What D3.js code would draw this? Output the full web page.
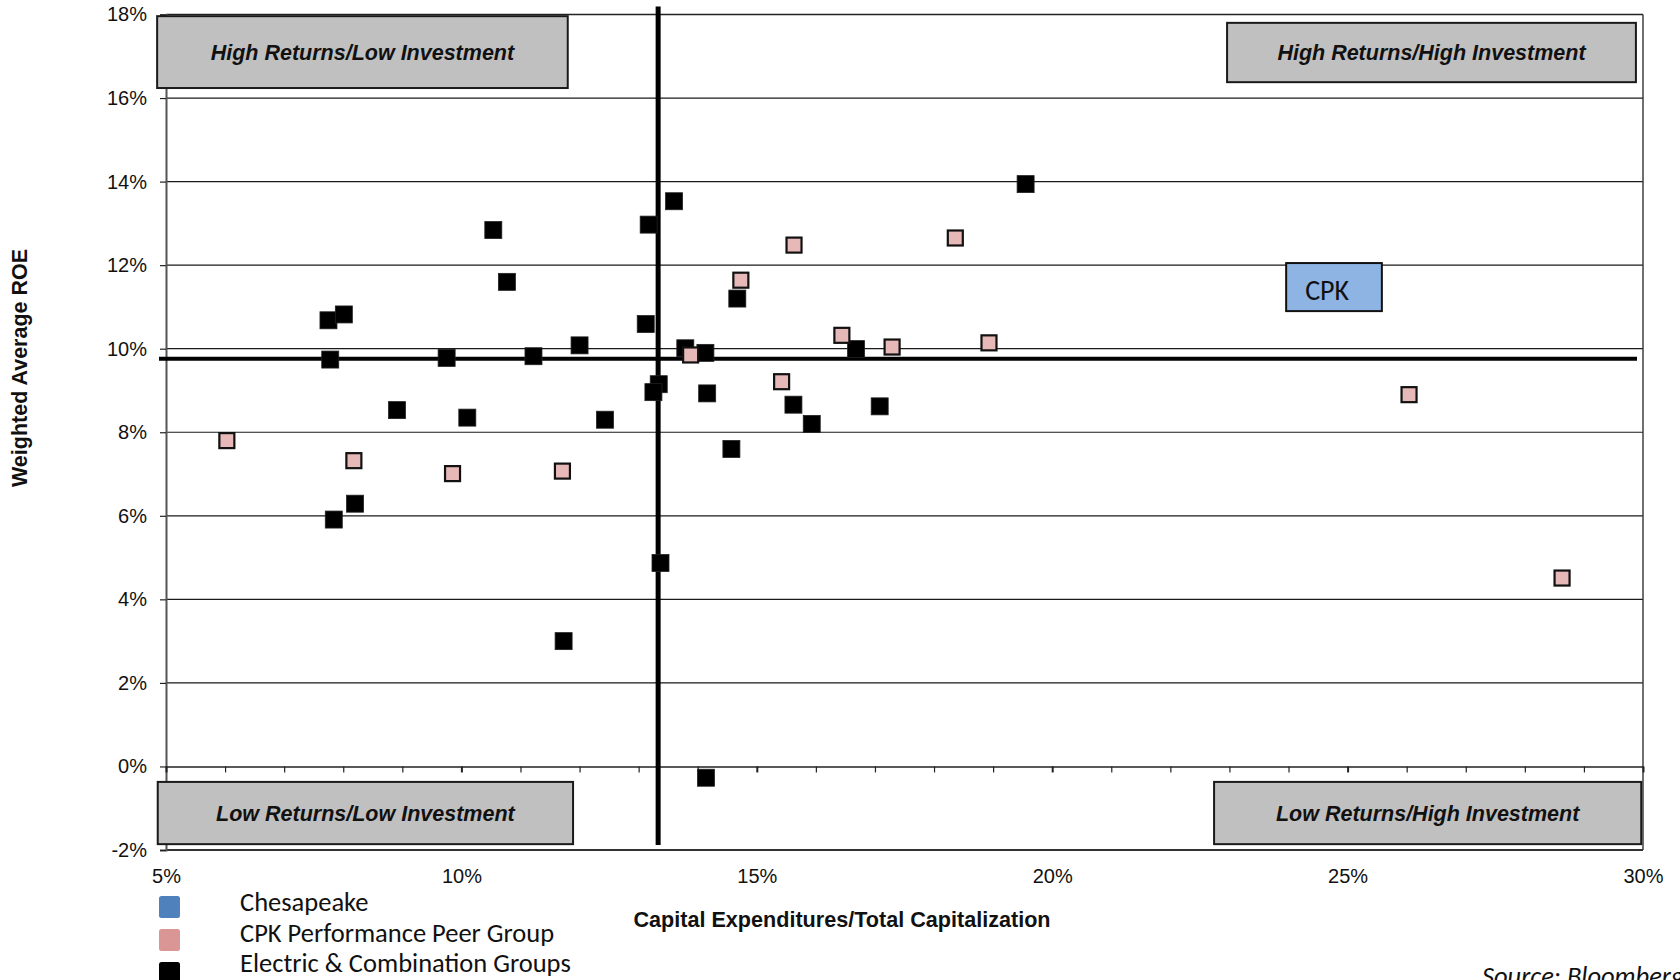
<!DOCTYPE html>
<html>
<head>
<meta charset="utf-8">
<script src="https://cdn.jsdelivr.net/npm/d3@7"></script>
<style>
  html, body { margin: 0; padding: 0; background: #fff; }
  svg { display: block; }
</style>
</head>
<body>
<div id="chart"></div>
<script>
// Capex / total capitalization (%) vs weighted average ROE (%)
const electricX = [7.75, 8.01, 7.78, 9.75, 10.54, 10.77, 11.22, 12.0, 8.91, 10.1, 12.43, 8.2, 7.84, 11.73,
  13.12, 13.17, 13.6, 13.79, 14.13, 13.34, 13.25, 14.16, 14.67, 14.57, 15.62, 15.93, 16.68, 17.08, 19.55, 13.37, 14.14];
const electricY = [10.68, 10.82, 9.74, 9.78, 12.84, 11.6, 9.82, 10.08, 8.53, 8.35, 8.3, 6.29, 5.91, 3.0,
  10.59, 12.97, 13.53, 10.01, 9.9, 9.15, 8.96, 8.93, 11.2, 7.6, 8.66, 8.2, 9.99, 8.62, 13.94, 4.87, -0.27];
const peerX = [6.03, 8.18, 9.85, 11.71, 13.88, 14.73, 15.42, 15.63, 16.44, 17.29, 18.36, 18.93, 26.04, 28.63];
const peerY = [7.8, 7.32, 7.01, 7.07, 9.85, 11.64, 9.21, 12.48, 10.32, 10.04, 12.65, 10.14, 8.9, 4.51];

const avgCapex = 13.33;
const avgRoe = 9.76;

const xTicks = [5, 10, 15, 20, 25, 30];
const yTicks = [-2, 0, 2, 4, 6, 8, 10, 12, 14, 16, 18];

const legendLabels = ["Chesapeake", "CPK Performance Peer Group", "Electric & Combination Groups"];
const legendColors = ["#4f81bd", "#d99694", "#000000"];

const quadrantLabels = [
  { text: "High Returns/Low Investment", x0: 4.85, x1: 11.8, y0: 17.96, y1: 16.24 },
  { text: "High Returns/High Investment", x0: 22.96, x1: 29.88, y0: 17.8, y1: 16.38 },
  { text: "Low Returns/Low Investment", x0: 4.86, x1: 11.89, y0: -0.37, y1: -1.86 },
  { text: "Low Returns/High Investment", x0: 22.74, x1: 29.97, y0: -0.37, y1: -1.86 },
];
const cpkLabel = { text: "CPK", x0: 23.96, x1: 25.58, y0: 12.05, y1: 10.9 };

const W = 1680, H = 980;
const margin = { top: 14.5, right: 37, bottom: 130, left: 166 };
const arial = "'Liberation Sans', Arial, sans-serif";
const calibri = "Carlito, Calibri, Lato, sans-serif";

const svg = d3.select("#chart").append("svg")
  .attr("width", W).attr("height", H)
  .attr("viewBox", `0 0 ${W} ${H}`);

const x = d3.scaleLinear().domain([5, 30]).range([margin.left, W - margin.right]);
const y = d3.scaleLinear().domain([-2, 18]).range([H - margin.bottom, margin.top]);

// grid
svg.append("g").selectAll("line")
  .data(yTicks.filter((d) => d !== 0 && d !== -2 && d !== 18))
  .join("line")
  .attr("x1", x(5)).attr("x2", x(30))
  .attr("y1", (d) => y(d)).attr("y2", (d) => y(d))
  .attr("stroke", "#1a1a1a").attr("stroke-width", 1.2);

// frame
svg.append("line").attr("x1", x(5)).attr("x2", x(30)).attr("y1", y(18)).attr("y2", y(18))
  .attr("stroke", "#222").attr("stroke-width", 1.6);
svg.append("line").attr("x1", x(5)).attr("x2", x(30)).attr("y1", y(-2)).attr("y2", y(-2))
  .attr("stroke", "#333").attr("stroke-width", 2.2);
svg.append("line").attr("x1", x(30)).attr("x2", x(30)).attr("y1", y(18)).attr("y2", y(-2))
  .attr("stroke", "#333").attr("stroke-width", 1.4);

// y axis
const yAxis = svg.append("g")
  .attr("transform", `translate(${x(5)},0)`)
  .call(d3.axisLeft(y).tickValues(yTicks).tickSize(6).tickPadding(13).tickFormat((d) => d + "%"));
yAxis.select(".domain").attr("stroke", "#555").attr("stroke-width", 2);
yAxis.selectAll(".tick line").attr("stroke", "#222").attr("stroke-width", 1.2);
yAxis.selectAll("text").style("font-family", arial).style("font-size", "20px").attr("fill", "#111");

// x axis line at 0% with minor ticks
const zeroAxis = svg.append("g")
  .attr("transform", `translate(0,${y(0)})`)
  .call(d3.axisBottom(x).ticks(25).tickSize(6).tickSizeOuter(0).tickFormat(""));
zeroAxis.select(".domain").attr("stroke", "#222").attr("stroke-width", 1.6);
zeroAxis.selectAll(".tick line")
  .attr("stroke", "#222")
  .attr("stroke-width", (d) => (xTicks.includes(d) ? 2 : 1.2));

// x tick labels along the bottom
const xAxis = svg.append("g")
  .attr("transform", `translate(0,${y(-2)})`)
  .call(d3.axisBottom(x).tickValues(xTicks).tickSize(0).tickPadding(19).tickFormat((d) => d + "%"));
xAxis.select(".domain").remove();
xAxis.selectAll("text").style("font-family", arial).style("font-size", "20px").attr("fill", "#111");

// quadrant boxes
const quad = svg.append("g").selectAll("g").data(quadrantLabels).join("g");
quad.append("rect")
  .attr("x", (d) => x(d.x0)).attr("y", (d) => y(d.y0))
  .attr("width", (d) => x(d.x1) - x(d.x0)).attr("height", (d) => y(d.y1) - y(d.y0))
  .attr("fill", "#c0c0c0").attr("stroke", "#1a1a1a").attr("stroke-width", 2);
quad.append("text")
  .attr("x", (d) => (x(d.x0) + x(d.x1)) / 2)
  .attr("y", (d) => (y(d.y0) + y(d.y1)) / 2 + 7.5)
  .attr("text-anchor", "middle")
  .style("font-family", arial).style("font-size", "21.5px")
  .style("font-weight", "bold").style("font-style", "italic")
  .attr("fill", "#111")
  .text((d) => d.text);

// average lines
svg.append("line")
  .attr("x1", x(avgCapex)).attr("x2", x(avgCapex))
  .attr("y1", 6.5).attr("y2", y(-2) - 5)
  .attr("stroke", "#000").attr("stroke-width", 5);
svg.append("line")
  .attr("x1", x(5) - 7).attr("x2", x(30) - 6)
  .attr("y1", y(avgRoe)).attr("y2", y(avgRoe))
  .attr("stroke", "#000").attr("stroke-width", 4);

// markers
const s = 17;
svg.append("g").selectAll("rect")
  .data(electricX.map((v, i) => [v, electricY[i]]))
  .join("rect")
  .attr("x", (d) => x(d[0]) - s / 2).attr("y", (d) => y(d[1]) - s / 2)
  .attr("width", s).attr("height", s)
  .attr("fill", "#000").attr("stroke", "#222").attr("stroke-width", 0.8);
svg.append("g").selectAll("rect")
  .data(peerX.map((v, i) => [v, peerY[i]]))
  .join("rect")
  .attr("x", (d) => x(d[0]) - (s - 2) / 2).attr("y", (d) => y(d[1]) - (s - 2) / 2)
  .attr("width", s - 2).attr("height", s - 2)
  .attr("fill", "#e6b9b8").attr("stroke", "#111").attr("stroke-width", 2.2);

// CPK label
svg.append("rect")
  .attr("x", x(cpkLabel.x0)).attr("y", y(cpkLabel.y0))
  .attr("width", x(cpkLabel.x1) - x(cpkLabel.x0)).attr("height", y(cpkLabel.y1) - y(cpkLabel.y0))
  .attr("fill", "#8db4e2").attr("stroke", "#111").attr("stroke-width", 2);
svg.append("text")
  .attr("x", x(cpkLabel.x0) + 19).attr("y", y(cpkLabel.y1) - 11)
  .style("font-family", calibri).style("font-size", "28px")
  .attr("fill", "#111")
  .text(cpkLabel.text);

// axis titles
svg.append("text")
  .attr("x", 842).attr("y", 927)
  .attr("text-anchor", "middle")
  .style("font-family", arial).style("font-size", "21.6px").style("font-weight", "bold")
  .attr("fill", "#111")
  .text("Capital  Expenditures/Total Capitalization");
svg.append("text")
  .attr("transform", `translate(27,368) rotate(-90)`)
  .attr("text-anchor", "middle")
  .style("font-family", arial).style("font-size", "21.5px").style("font-weight", "bold")
  .attr("fill", "#111")
  .text("Weighted Average ROE");

// legend
const leg = svg.append("g").selectAll("g").data(legendLabels).join("g")
  .attr("transform", (d, i) => `translate(159,${896 + i * 33})`);
leg.append("rect")
  .attr("width", 21).attr("height", 22).attr("rx", 2.5)
  .attr("fill", (d, i) => legendColors[i]);
leg.append("text")
  .attr("x", 81).attr("y", (d, i) => 15 - i * 2.5)
  .style("font-family", calibri).style("font-size", "26.5px")
  .attr("fill", "#111")
  .text((d) => d);

svg.append("text")
  .attr("x", 1482).attr("y", 985)
  .style("font-family", calibri).style("font-size", "26.5px").style("font-style", "italic")
  .attr("fill", "#111")
  .text("Source:  Bloomberg");
</script>
</body>
</html>
